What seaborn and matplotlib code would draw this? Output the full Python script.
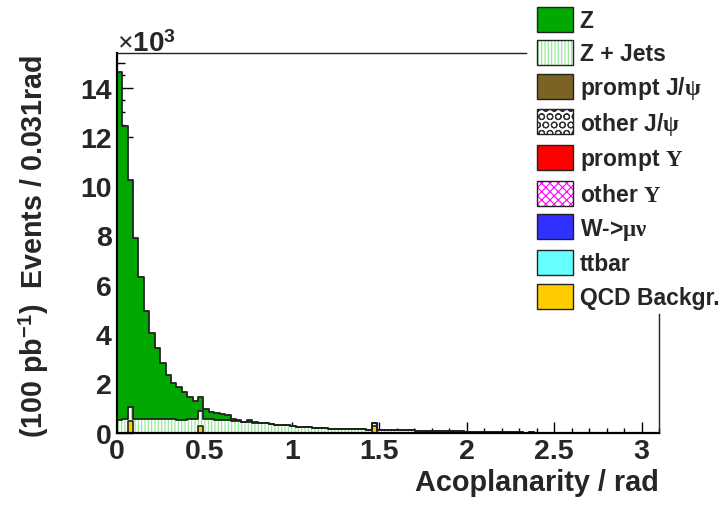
import numpy as np
import pandas as pd
import matplotlib
matplotlib.use("Agg")
import matplotlib.pyplot as plt
from matplotlib.patches import Patch
from matplotlib.ticker import FixedLocator, MultipleLocator
import seaborn as sns

# ---------------- data (thousands of events per 0.031 rad bin) ----------------
bin_width = 0.031
n_bins = 100

z_k = [14.11, 11.91, 9.23, 7.32, 5.75, 4.35, 3.48, 2.89, 2.28, 1.79,
       1.48, 1.34, 1.11, 0.89, 0.73, 0.54, 0.41, 0.31, 0.27, 0.24,
       0.21, 0.08, 0.07, 0.03, 0.08, 0.04, 0.02, 0.00, 0.00, 0.00,
       0.00, 0.00, 0.00, 0.00, 0.00, 0.00, 0.00, 0.00, 0.00, 0.00,
       0.00, 0.00, 0.00, 0.00, 0.00, 0.00, 0.00, 0.00, 0.00, 0.00,
       0.00, 0.00, 0.00, 0.00, 0.00, 0.00, 0.00, 0.00, 0.00, 0.00,
       0.00, 0.00, 0.00, 0.00, 0.00, 0.00, 0.00, 0.00, 0.00, 0.00,
       0.00, 0.00, 0.00, 0.00, 0.00, 0.00, 0.00, 0.00, 0.00, 0.00,
       0.00, 0.00, 0.00, 0.00, 0.00, 0.00, 0.00, 0.00, 0.00, 0.00,
       0.00, 0.00, 0.00, 0.00, 0.00, 0.00, 0.00, 0.00, 0.00, 0.00]

zjets_k = [0.53, 0.54, 0.54, 0.56, 0.55, 0.57, 0.56, 0.56, 0.55, 0.55,
           0.54, 0.53, 0.53, 0.54, 0.54, 0.63, 0.55, 0.54, 0.53, 0.52,
           0.51, 0.48, 0.46, 0.42, 0.45, 0.41, 0.39, 0.38, 0.35, 0.33,
           0.31, 0.30, 0.28, 0.25, 0.24, 0.22, 0.21, 0.20, 0.19, 0.17,
           0.16, 0.16, 0.15, 0.14, 0.13, 0.13, 0.12, 0.14, 0.11, 0.12,
           0.11, 0.10, 0.10, 0.09, 0.09, 0.08, 0.07, 0.07, 0.06, 0.06,
           0.05, 0.05, 0.05, 0.05, 0.04, 0.04, 0.04, 0.03, 0.03, 0.03,
           0.02, 0.02, 0.01, 0.01, 0.01, 0.00, 0.01, 0.00, 0.00, 0.00,
           0.00, 0.00, 0.00, 0.00, 0.00, 0.00, 0.00, 0.00, 0.00, 0.00,
           0.00, 0.00, 0.00, 0.00, 0.00, 0.00, 0.00, 0.00, 0.00, 0.00]

qcd_k = [0.00, 0.00, 0.49, 0.00, 0.00, 0.00, 0.00, 0.00, 0.00, 0.00,
         0.00, 0.00, 0.00, 0.00, 0.00, 0.26, 0.00, 0.00, 0.00, 0.00,
         0.00, 0.00, 0.00, 0.00, 0.00, 0.00, 0.00, 0.00, 0.00, 0.00,
         0.00, 0.00, 0.00, 0.00, 0.00, 0.00, 0.00, 0.00, 0.00, 0.00,
         0.00, 0.00, 0.00, 0.00, 0.00, 0.00, 0.00, 0.26, 0.00, 0.00,
         0.00, 0.00, 0.00, 0.00, 0.00, 0.00, 0.00, 0.00, 0.00, 0.00,
         0.00, 0.00, 0.00, 0.00, 0.00, 0.00, 0.00, 0.00, 0.00, 0.00,
         0.00, 0.00, 0.00, 0.00, 0.00, 0.00, 0.00, 0.00, 0.00, 0.00,
         0.00, 0.00, 0.00, 0.00, 0.00, 0.00, 0.00, 0.00, 0.00, 0.00,
         0.00, 0.00, 0.00, 0.00, 0.00, 0.00, 0.00, 0.00, 0.00, 0.00]

legend_labels = ["Z", "Z + Jets", "prompt J/$\\psi$", "other J/$\\psi$",
                 "prompt $\\Upsilon$", "other $\\Upsilon$", "W->$\\mu\\nu$",
                 "ttbar", "QCD Backgr."]
x_ticks = [0, 0.5, 1, 1.5, 2, 2.5, 3]
x_tick_labels = ["0", "0.5", "1", "1.5", "2", "2.5", "3"]
y_ticks = [0, 2, 4, 6, 8, 10, 12, 14]
y_tick_labels = ["0", "2", "4", "6", "8", "10", "12", "14"]

# ---------------- style ----------------
sns.set_style("ticks")
plt.rcParams["font.family"] = ["Liberation Sans", "DejaVu Sans"]
plt.rcParams["font.weight"] = "bold"
plt.rcParams["mathtext.fontset"] = "custom"
plt.rcParams["mathtext.rm"] = "Liberation Serif"
plt.rcParams["mathtext.it"] = "Liberation Serif"
plt.rcParams["mathtext.bf"] = "Liberation Sans:bold"
plt.rcParams["hatch.linewidth"] = 0.8

Z_GREEN = "#00a800"
HATCH_GREEN = "#8ee68e"
QCD_YELLOW = "#ffcc00"
EDGE = "#222222"

edges = [i * bin_width for i in range(n_bins + 1)]
centers = [(i + 0.5) * bin_width for i in range(n_bins)]
z = np.array(z_k)
zj = np.array(zjets_k)
qcd = np.array(qcd_k)
df = pd.DataFrame({
    "acop": centers,
    "cum_qcd": qcd,
    "cum_zj": zj + qcd,
    "cum_all": z + zj + qcd,
})

fig = plt.figure(figsize=(7.2, 5.06), dpi=100)
ax = fig.add_axes([0.1621, 0.1429, 0.7532, 0.7498])

common = dict(data=df, x="acop", bins=edges, element="step", ax=ax)
sns.histplot(weights="cum_all", fill=True, color=Z_GREEN, alpha=1,
             edgecolor=Z_GREEN, linewidth=0, **common)
sns.histplot(weights="cum_zj", fill=True, color="white", alpha=1,
             edgecolor=HATCH_GREEN, linewidth=0, hatch="|||||", **common)
sns.histplot(weights="cum_all", fill=False, color=EDGE, linewidth=1.3, **common)
sns.histplot(weights="cum_zj", fill=False, color=EDGE, linewidth=1.3, **common)
sns.histplot(weights="cum_qcd", fill=True, color=QCD_YELLOW, alpha=1,
             edgecolor=EDGE, linewidth=1.2, **common)

ax.set_xlim(0, 3.1)
ax.set_ylim(0, 15.39)

ax.xaxis.set_major_locator(FixedLocator(x_ticks))
ax.set_xticklabels(x_tick_labels)
ax.xaxis.set_minor_locator(MultipleLocator(0.1))
ax.yaxis.set_major_locator(FixedLocator(y_ticks))
ax.set_yticklabels(y_tick_labels)
ax.yaxis.set_minor_locator(MultipleLocator(0.5))

ax.tick_params(which="both", direction="in", top=False, right=False,
               color="black")
ax.tick_params(axis="x", which="major", length=8, width=1.0, pad=4,
               labelsize=20.5)
ax.tick_params(axis="x", which="minor", length=3.5, width=1.0)
ax.tick_params(axis="y", which="major", length=11.5, width=1.0, pad=3.5,
               labelsize=20.5)
ax.tick_params(axis="y", which="minor", length=5.8, width=1.0)
for lab in ax.get_xticklabels() + ax.get_yticklabels():
    lab.set_fontweight("bold")

for side in ["left", "bottom"]:
    ax.spines[side].set_linewidth(1.6)
    ax.spines[side].set_color("black")
for side in ["top", "right"]:
    ax.spines[side].set_linewidth(1.0)
    ax.spines[side].set_color("#222222")
# the legend box hides the upper-right part of the frame
ax.spines["top"].set_bounds(0, 2.34)
ax.spines["right"].set_bounds(0, 4.8)

ax.set_xlabel("Acoplanarity / rad", fontsize=20.8, fontweight="bold",
              loc="right")
ax.xaxis.set_label_coords(1.0, -0.093)
ax.set_ylabel("(100 pb$^{\\mathbf{-1}}$)  Events / 0.031rad", fontsize=20.6,
              fontweight="bold", loc="top")
ax.yaxis.set_label_coords(-0.121, 1.0)

ax.text(0.0, 1.006, "$\\times$10$^{\\mathbf{3}}$", transform=ax.transAxes,
        fontsize=20, fontweight="bold", ha="left", va="baseline")

# ---------------- legend ----------------
def box(fc, hatch=None, hc=None):
    if hatch is None:
        return Patch(facecolor=fc, edgecolor=EDGE, linewidth=1.0)
    return (Patch(facecolor=fc, edgecolor=hc, hatch=hatch, linewidth=0),
            Patch(facecolor="none", edgecolor=EDGE, linewidth=1.0))

handles = [
    box(Z_GREEN),
    box("white", "|||||", HATCH_GREEN),
    box("#7b6323"),
    box("white", "OO", "#333333"),
    box("#ff0000"),
    box("white", "xxxx", "#ff00ff"),
    box("#3030ff"),
    box("#66ffff"),
    box(QCD_YELLOW),
]
leg = fig.legend(handles, legend_labels, loc="upper left",
                 bbox_to_anchor=(534.5 / 720, 1.0 - 5 / 506),
                 bbox_transform=fig.transFigure,
                 prop={"weight": "bold", "size": 16.5},
                 frameon=False, borderpad=0.11,
                 borderaxespad=0, handlelength=1.57, handleheight=1.30,
                 handletextpad=0.30, labelspacing=0.37)

fig.savefig("out.png", dpi=100)
